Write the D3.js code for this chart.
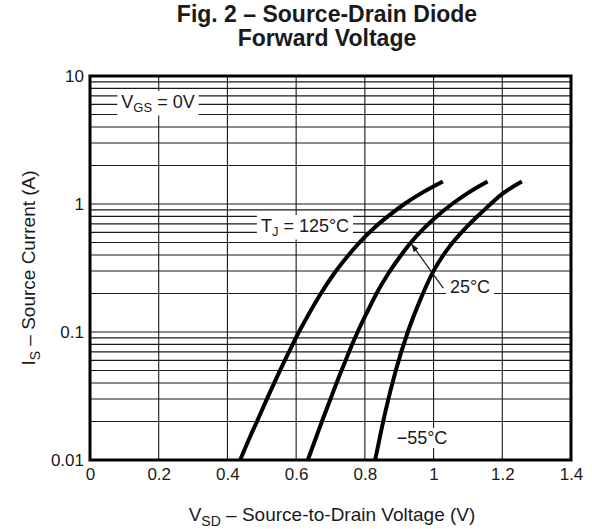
<!DOCTYPE html>
<html>
<head>
<meta charset="utf-8">
<script src="https://cdn.jsdelivr.net/npm/d3@7/dist/d3.min.js"></script>
<style>
  html, body { margin: 0; padding: 0; background: #fff; }
  svg { display: block; font-family: "Liberation Sans", Arial, Helvetica, sans-serif; }
</style>
</head>
<body>
<svg id="chart" width="592" height="529"></svg>
<script>
// Source-drain diode forward characteristics: [V_SD (V), I_S (A)]
const curve125 = [[0.437,0.01],[0.465,0.015],[0.486,0.02],[0.515,0.03],[0.545,0.045],[0.567,0.06],[0.590,0.08],[0.608,0.1],[0.638,0.14],[0.672,0.2],[0.708,0.28],[0.746,0.38],[0.784,0.5],[0.827,0.65],[0.867,0.8],[0.915,1.0],[0.961,1.2],[1.027,1.5]];
const curve25  = [[0.634,0.01],[0.658,0.015],[0.675,0.02],[0.700,0.03],[0.725,0.045],[0.744,0.06],[0.763,0.08],[0.779,0.1],[0.805,0.14],[0.834,0.2],[0.866,0.28],[0.900,0.38],[0.934,0.5],[0.973,0.65],[1.009,0.8],[1.054,1.0],[1.096,1.2],[1.157,1.5]];
const curveM55 = [[0.830,0.01],[0.860,0.024],[0.890,0.05],[0.925,0.1],[0.960,0.175],[1.000,0.30],[1.045,0.46],[1.091,0.64],[1.144,0.88],[1.200,1.2],[1.257,1.5]];
const series = [curve125, curve25, curveM55];

const xTicks = [0, 0.2, 0.4, 0.6, 0.8, 1.0, 1.2, 1.4];
const xTickLabels = ["0", "0.2", "0.4", "0.6", "0.8", "1", "1.2", "1.4"];
const yTicks = [0.01, 0.1, 1, 10];
const yTickLabels = ["0.01", "0.1", "1", "10"];

const svg = d3.select("#chart");
const plotL = 90, plotR = 571, plotT = 76, plotB = 460;

const x = d3.scaleLinear().domain([0, 1.4]).range([plotL, plotR]);
const y = d3.scaleLog().domain([0.01, 10]).range([plotB, plotT]);

const ink = "#1a1a1a";

// Title (two lines)
svg.append("text").attr("x", 327).attr("y", 22)
  .attr("text-anchor", "middle").attr("font-weight", "bold")
  .attr("font-size", 23).attr("fill", ink)
  .text("Fig. 2 \u2013 Source-Drain Diode");
svg.append("text").attr("x", 327).attr("y", 46)
  .attr("text-anchor", "middle").attr("font-weight", "bold")
  .attr("font-size", 23).attr("fill", ink)
  .text("Forward Voltage");

// Grid
const minor = [];
for (let d = 0.01; d < 10; d *= 10) {
  for (let k = 1; k <= 9; k++) minor.push(+(d * k).toPrecision(3));
}
const grid = svg.append("g");
grid.selectAll("line.h").data(minor).join("line").attr("class", "h")
  .attr("x1", plotL).attr("x2", plotR)
  .attr("y1", d => y(d)).attr("y2", d => y(d))
  .attr("stroke", ink).attr("stroke-width", 1.1);
grid.selectAll("line.v").data(xTicks).join("line").attr("class", "v")
  .attr("x1", d => x(d)).attr("x2", d => x(d))
  .attr("y1", plotT).attr("y2", plotB)
  .attr("stroke", ink).attr("stroke-width", 1.1);

// Axes (labels only; frame drawn separately)
const xAxis = d3.axisBottom(x).tickValues(xTicks)
  .tickFormat((d, i) => xTickLabels[i]).tickSize(0).tickPadding(8);
svg.append("g").attr("transform", `translate(0,${plotB})`).call(xAxis)
  .call(g => g.select(".domain").remove())
  .selectAll("text").attr("font-size", 17).attr("fill", ink)
  .attr("font-family", "Liberation Sans, Arial, sans-serif");

const yAxis = d3.axisLeft(y).tickValues(yTicks)
  .tickFormat((d, i) => yTickLabels[i]).tickSize(0).tickPadding(6);
svg.append("g").attr("transform", `translate(${plotL},0)`).call(yAxis)
  .call(g => g.select(".domain").remove())
  .selectAll("text").attr("font-size", 17).attr("fill", ink)
  .attr("font-family", "Liberation Sans, Arial, sans-serif");

// Curves
const line = d3.line().x(d => x(d[0])).y(d => y(d[1])).curve(d3.curveMonotoneX);
svg.append("g").selectAll("path").data(series).join("path")
  .attr("d", line).attr("fill", "none")
  .attr("stroke", "#000").attr("stroke-width", 4).attr("stroke-linecap", "butt");

// White-backed annotation label
function boxLabel(cx, cy, parts, padX, padY) {
  const g = svg.append("g");
  const rect = g.append("rect").attr("fill", "#fff");
  const t = g.append("text").attr("x", cx).attr("y", cy)
    .attr("text-anchor", "middle").attr("dominant-baseline", "central")
    .attr("font-size", 18).attr("fill", ink);
  parts.forEach(p => {
    const s = t.append("tspan").text(p.t);
    if (p.sub) s.attr("font-size", 13).attr("dy", 5);
    if (p.up) s.attr("dy", -5);
  });
  const bb = t.node().getBBox();
  rect.attr("x", bb.x - padX).attr("y", bb.y - padY)
    .attr("width", bb.width + 2 * padX).attr("height", bb.height + 2 * padY);
  return g;
}

boxLabel(158, 102, [{t: "V"}, {t: "GS", sub: true}, {t: " = 0V", up: true}], 4, 1);
boxLabel(305, 226, [{t: "T"}, {t: "J", sub: true}, {t: " = 125\u00B0C", up: true}], 4, 1);

// Arrow pointing to the 25 °C curve
const defs = svg.append("defs");
defs.append("marker").attr("id", "ah").attr("viewBox", "0 0 10 10")
  .attr("refX", 10).attr("refY", 5).attr("markerWidth", 7).attr("markerHeight", 7)
  .attr("orient", "auto")
  .append("path").attr("d", "M0,1.5 L10,5 L0,8.5 Z").attr("fill", ink);
svg.append("line")
  .attr("x1", x(1.028)).attr("y1", y(0.22))
  .attr("x2", x(0.935)).attr("y2", y(0.49))
  .attr("stroke", ink).attr("stroke-width", 1.2).attr("marker-end", "url(#ah)");

boxLabel(470, 287, [{t: "25\u00B0C"}], 4, 1);
boxLabel(422, 438, [{t: "\u221255\u00B0C"}], 3, 0);

// Frame
svg.append("rect").attr("x", plotL).attr("y", plotT)
  .attr("width", plotR - plotL).attr("height", plotB - plotT)
  .attr("fill", "none").attr("stroke", "#000").attr("stroke-width", 3);

// Axis titles
const xt = svg.append("text").attr("x", 332).attr("y", 521)
  .attr("text-anchor", "middle").attr("font-size", 19).attr("fill", ink);
xt.append("tspan").text("V");
xt.append("tspan").text("SD").attr("font-size", 14).attr("dy", 5);
xt.append("tspan").text(" \u2013 Source-to-Drain Voltage (V)").attr("dy", -5);

const yt = svg.append("text")
  .attr("transform", "translate(35,268) rotate(-90)")
  .attr("text-anchor", "middle").attr("font-size", 19).attr("fill", ink);
yt.append("tspan").text("I");
yt.append("tspan").text("S").attr("font-size", 14).attr("dy", 5);
yt.append("tspan").text(" \u2013 Source Current (A)").attr("dy", -5);
</script>
</body>
</html>
